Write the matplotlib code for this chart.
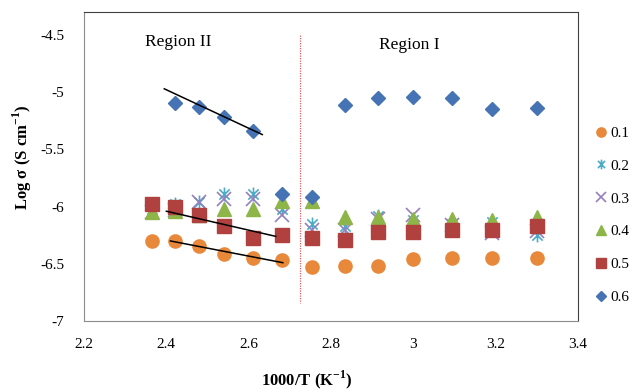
import numpy as np
import matplotlib
matplotlib.use("Agg")
import matplotlib.pyplot as plt
from matplotlib.path import Path

# 1000/T values (K^-1)
x_reg2 = [2.365, 2.42, 2.48, 2.54, 2.61, 2.68]
x_reg1 = [2.755, 2.835, 2.915, 3.0, 3.095, 3.19, 3.30]

# log sigma for each composition (Region II then Region I)
y_01 = [-6.30, -6.30, -6.34, -6.41, -6.45, -6.47,
        -6.53, -6.52, -6.52, -6.46, -6.45, -6.45, -6.45]
y_02 = [-6.02, -5.98, -5.96, -5.89, -5.89, -6.02,
        -6.15, -6.17, -6.08, -6.12, -6.15, -6.13, -6.25]
y_03 = [-6.05, -6.03, -5.96, -5.93, -5.93, -6.07,
        -6.20, -6.20, -6.11, -6.07, -6.16, -6.23, -6.21]
y_04 = [-6.05, -6.04, -6.07, -6.02, -6.02, -5.95,
        -5.95, -6.09, -6.09, -6.11, -6.11, -6.12, -6.09]
y_05 = [-5.98, -6.00, -6.07, -6.17, -6.27, -6.25,
        -6.27, -6.29, -6.22, -6.22, -6.20, -6.20, -6.17]
# 0.6 has no point at 2.365
x_06 = x_reg2[1:] + x_reg1
y_06 = [-5.09, -5.13, -5.22, -5.34, -5.89,
        -5.92, -5.11, -5.05, -5.04, -5.05, -5.15, -5.14]

labels = ["0.1", "0.2", "0.3", "0.4", "0.5", "0.6"]

# fitted lines in Region II (end points)
fit_06_x, fit_06_y = [2.395, 2.633], [-4.97, -5.37]
fit_05_x, fit_05_y = [2.40, 2.666], [-6.04, -6.26]
fit_01_x, fit_01_y = [2.41, 2.683], [-6.30, -6.49]

boundary_x = 2.725

# Excel-like asterisk: X plus vertical bar
star = Path([(-1, -1), (1, 1), (-1, 1), (1, -1), (0, -1.35), (0, 1.35)],
            [Path.MOVETO, Path.LINETO, Path.MOVETO, Path.LINETO,
             Path.MOVETO, Path.LINETO])

plt.rcParams["font.family"] = ["Liberation Serif", "DejaVu Serif"]
plt.rcParams["mathtext.fontset"] = "custom"
plt.rcParams["mathtext.rm"] = "Liberation Serif"
plt.rcParams["mathtext.bf"] = "Liberation Serif:bold"

fig = plt.figure(figsize=(6.39, 3.92), dpi=100)
ax = fig.add_axes([0.1315, 0.181, 0.773, 0.788])

x_all = x_reg2 + x_reg1
ax.plot(x_all, y_01, "o", ms=9.5, color="#E8883A", mec="#E8883A", label=labels[0])
ax.plot(x_all, y_02, ls="none", marker=star, ms=10, mew=1.2, color="#4BACC6",
        mfc="none", label=labels[1])
ax.plot(x_all, y_03, "x", ms=9.5, mew=1.2, color="#9480C0", label=labels[2])
ax.plot(x_all, y_04, "^", ms=10, color="#8DB548", mec="#8DB548", label=labels[3])
ax.plot(x_all, y_05, "s", ms=9.5, color="#B0413E", mec="#B0413E", label=labels[4])
ax.plot(x_06, y_06, "D", ms=7.5, color="#4673B4", mec="#4673B4", label=labels[5])

for fx, fy in [(fit_06_x, fit_06_y), (fit_05_x, fit_05_y), (fit_01_x, fit_01_y)]:
    ax.plot(fx, fy, color="black", lw=1.1)

ax.plot([boundary_x, boundary_x], [-4.5, -6.84], color="#E06060", lw=0.9, ls=(0, (1, 1)))

ax.text(2.43, -4.56, "Region II", fontsize=12.5, ha="center", va="center")
ax.text(2.99, -4.59, "Region I", fontsize=12.5, ha="center", va="center")

ax.set_xlim(2.2, 3.4)
ax.set_ylim(-7, -4.3)
ax.set_xticks(np.arange(2.2, 3.41, 0.2))
ax.set_xticklabels(["2.2", "2.4", "2.6", "2.8", "3", "3.2", "3.4"])
ax.set_yticks([-7, -6.5, -6, -5.5, -5, -4.5])
ax.set_yticklabels(["-7", "-6.5", "-6", "-5.5", "-5", "-4.5"])
ax.tick_params(length=0, labelsize=11)
ax.tick_params(axis="x", pad=12)
ax.tick_params(axis="y", pad=14)

for side in ["left", "bottom"]:
    ax.spines[side].set_color("#8C8C8C")
for side in ["top", "right"]:
    ax.spines[side].set_color("#404040")

ax.set_xlabel(r"1000/T (K$^{\mathbf{-1}}$)", fontsize=12, fontweight="bold", va="center")
ax.xaxis.set_label_coords(0.45, -0.19)
ax.set_ylabel(r"Log σ (S cm$^{\mathbf{-1}}$)", fontsize=12, fontweight="bold", va="center")
ax.yaxis.set_label_coords(-0.125, 0.53)

ax.legend(loc="upper left", bbox_to_anchor=(1.0, 0.69), frameon=False,
          fontsize=11, handlelength=0.6, handletextpad=0.3, labelspacing=1.25,
          markerscale=0.7, borderaxespad=0.8)

fig.savefig("out.png", dpi=100)
